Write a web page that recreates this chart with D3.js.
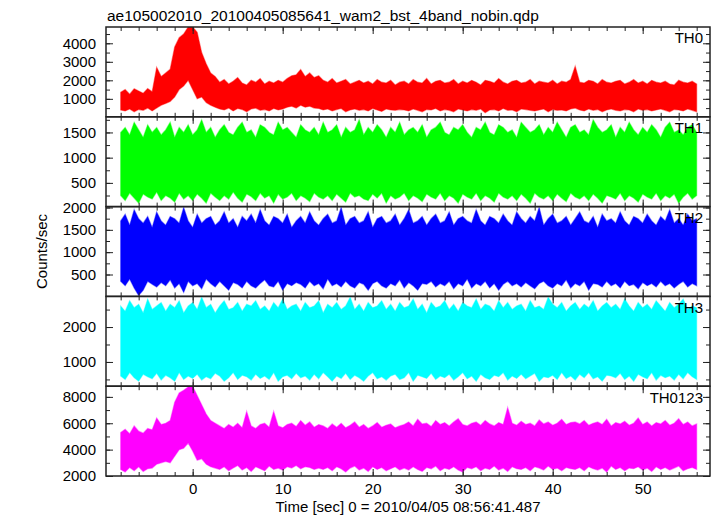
<!DOCTYPE html>
<html><head><meta charset="utf-8">
<script src="https://cdn.jsdelivr.net/npm/d3@7/dist/d3.min.js"></script>
<style>body{margin:0;background:#fff}svg text{font-family:"Liberation Sans",Arial,Helvetica,sans-serif}</style>
</head><body>
<svg id="c" width="717" height="516"></svg>
<script>
// ---- data: per-0.5 s bin upper (hi) and lower (lo) envelope of the light curves ----
const tStart = -8, tStep = 0.5;
const bands = ["TH0", "TH1", "TH2", "TH3", "TH0123"];
const th0Hi = [1350,1500,1250,1550,1420,1300,1560,1380, 2700,2200,2400,2600, 3800,4300,4500,4880, 4880,4600,3500,2900,2400,2200,
 1900,2050,1800,1950,2150,1850,1750,2000,1900,2100,1800,1950,1850,2000,1900,
 2100,2250,2300,2580,2200,2400,2150,2250,
 2000,1900,2100,1850,1950,2050,1800,1900,2000,1850,1950,1800,2050,1900,1850,2000,1750,1900,
 1950,1800,2050,1900,1850,2100,1800,1950,2000,1850,1900,2050,1800,1950,1850,2000,1900,1750,2000,1950,1850,2100,1900,1800,1950,2000,1850,1900,2050,1800,1950,1900,1850,2000,1800,1950,1900,2050,
 2760,
 1900,1850,2000,1950,1800,2050,1900,1850,1950,2000,1800,1900,2050,1850,1950,1800,2000,1900,1850,1950,1800,1750,2000,1900,1850,1950,1800];
const th0Lo = [400,350,450,300,420,380,500,350, 500,650,750,850, 1100,1500,1700,2000, 1500,1000,1100,800,650,550,
 450,400,500,350,480,420,300,450,500,380,420,350,480,400,450,
 550,600,500,650,550,600,500,480,
 400,450,350,420,480,300,400,450,380,420,350,480,400,320,450,400,380,420,
 400,350,450,380,300,420,400,480,350,420,380,300,450,400,350,420,380,450,250,400,420,350,480,380,400,300,450,420,380,350,400,450,300,420,380,400,350,450,
 500,
 400,350,450,380,420,300,400,450,380,350,420,400,300,450,380,420,350,400,450,380,300,420,400,350,450,380,300];
const th1Hi = [1500,1600,1450,1700,1550,1400,1650,1500,1600,1450,
 1550,1700,1400,1600,1500,1650,1450,1550,1750,1500,
 1600,1400,1550,1650,1500,1450,1600,1700,1500,1550,
 1400,1650,1600,1500,1450,1700,1550,1600,1500,1400,
 1650,1550,1500,1600,1450,1700,1500,1550,1650,1400,
 1600,1500,1550,1750,1450,1600,1500,1650,1550,1400,
 1600,1500,1700,1450,1550,1600,1500,1650,1400,1550,
 1600,1700,1500,1450,1600,1550,1650,1500,1400,1600,
 1550,1700,1500,1450,1650,1600,1500,1550,1400,1700,
 1600,1500,1550,1650,1450,1600,1500,1700,1550,1400,
 1600,1650,1500,1550,1450,1750,1600,1500,1550,1650,
 1400,1600,1500,1700,1550,1450,1600,1500,1650,1550,
 1400,1600,1700,1500,1550,1450,1600,1650,1500];
const th1Lo = [250,150,300,200,100,280,220,180,320,150,
 250,200,120,300,180,250,150,280,200,100,
 300,220,150,250,180,320,200,120,280,230,
 150,300,200,250,100,280,180,220,300,150,
 250,200,130,300,220,180,250,150,280,200,
 120,300,220,250,180,150,280,200,300,100,
 250,180,220,300,150,250,200,130,280,220,
 180,300,150,250,200,100,280,220,180,300,
 150,250,200,120,300,220,180,250,150,280,
 200,100,300,220,180,250,150,280,200,130,
 300,220,180,250,150,280,200,100,250,220,
 180,300,150,250,200,120,280,220,180,300,
 150,250,200,280,100,220,300,180,250];
const th2Hi = [1700,1850,1600,1950,1750,1650,1800,1550,1900,1700,
 1600,1800,1750,1650,2000,1700,1550,1850,1650,1750,
 1800,1600,1700,1900,1650,1750,1550,1800,1700,1850,
 1650,1950,1700,1600,1800,1750,1650,1850,1550,1700,
 1800,1650,1900,1700,1600,1750,1850,1650,1700,2000,
 1600,1750,1800,1650,1700,1900,1550,1750,1800,1650,
 1700,1850,1600,1750,1950,1650,1700,1800,1600,1750,
 1850,1650,1700,1900,1600,1750,1800,1700,1650,1950,
 1700,1600,1800,1750,1650,1850,1700,1600,1900,1750,
 1650,1800,1700,2000,1600,1750,1850,1650,1700,1800,
 1600,1750,1900,1700,1650,1800,1550,1850,1700,1750,
 1650,1900,1700,1600,1800,1750,1650,1850,1700,1600,
 1800,1700,1950,1650,1750,1600,1850,1700,1750];
const th2Lo = [350,250,400,200,30,150,350,280,220,320,
 250,380,200,300,100,350,250,300,180,400,
 300,220,350,250,150,320,280,200,350,250,
 200,300,380,250,220,350,150,300,250,320,
 280,200,350,250,300,180,400,250,300,220,
 350,250,200,320,280,150,300,350,250,200,
 300,250,380,200,320,250,150,300,280,350,
 220,300,250,350,180,300,250,400,200,300,
 250,350,200,300,150,280,350,250,300,220,
 320,250,180,300,350,250,200,300,250,380,
 200,300,250,350,150,300,280,220,350,250,
 300,200,350,250,280,180,320,250,300,220,
 350,250,300,200,280,350,220,300,250];
const th3Hi = [2600,2450,2750,2550,2650,2400,2800,2500,2600,2700,
 2450,2650,2550,2750,2400,2600,2700,2500,2850,2550,
 2650,2400,2600,2750,2500,2550,2700,2450,2650,2600,
 2750,2500,2600,2450,2700,2550,2800,2500,2600,2650,
 2450,2700,2550,2600,2750,2400,2650,2550,2700,2500,
 2600,2850,2500,2650,2450,2700,2550,2600,2750,2500,
 2650,2450,2700,2550,2600,2800,2500,2650,2400,2700,
 2550,2600,2750,2500,2650,2450,2700,2600,2550,2800,
 2500,2650,2600,2450,2750,2550,2700,2500,2600,2650,
 2450,2750,2550,2600,2500,2850,2650,2550,2700,2450,
 2600,2700,2500,2650,2550,2750,2450,2600,2700,2550,
 2650,2500,2800,2600,2450,2700,2550,2650,2500,2750,
 2600,2450,2700,2550,2650,2800,2500,2600,2550];
const th3Lo = [600,500,700,550,450,650,580,520,680,480,
 620,550,450,700,500,600,530,650,480,580,
 520,680,600,450,550,700,500,620,580,480,
 650,530,600,500,700,450,580,620,520,680,
 550,600,480,650,520,700,580,450,600,530,
 680,500,620,550,450,600,700,520,580,480,
 600,650,500,550,700,450,620,580,530,680,
 500,600,550,650,480,580,700,520,600,450,
 650,550,500,620,580,700,480,600,530,650,
 520,600,680,450,580,550,620,500,700,530,
 600,480,650,550,700,520,580,450,620,600,
 550,680,500,600,450,650,580,520,700,480,
 620,550,600,480,650,520,700,580,500];
const th0123Hi = [5300,5550,5200,5800,5400,5250,5600,5500, 6400,5900,6000,6200, 7600,8300,8500,8750, 8800,8100,7400,6700,6200,6000,
 5800,5600,5900,5700,6000,5650,6900,5800,5600,5900,6000,5700,6900,5800,5650,
 5900,6000,5750,6200,5850,6100,5700,5900,
 5800,5600,5950,5700,6000,5650,5850,6100,5700,5900,5600,5800,6050,5700,5850,5950,5650,5800,
 5900,6100,5800,6300,5950,6000,5750,6200,5900,6050,5800,6100,6350,5900,5800,6000,6100,5850,6200,5950,5800,6050,5900,7200,6000,5850,6150,5900,6000,5800,6250,5950,6100,5850,6000,6300,5900,6050,
 6100,
 5950,6200,5850,6000,6100,5900,6300,5800,6050,5950,6150,5850,6000,6400,5900,6100,5800,6050,5950,6200,5850,6000,6350,5900,6100,5800,5950];
const th0123Lo = [2500,2300,2650,2400,2700,2350,2550,2600, 2900,3000,3100,3000, 3500,4000,4100,4500, 3900,3200,3300,2900,2700,2600,
 2500,2700,2400,2600,2800,2450,2650,2350,2700,2550,2400,2750,2500,2600,2450,
 2700,2600,2800,2550,2700,2650,2500,2600,
 2500,2650,2400,2700,2550,2300,2600,2750,2450,2600,2350,2700,2500,2650,2400,2550,2700,2450,
 2600,2450,2700,2500,2350,2650,2550,2750,2400,2600,2500,2700,2450,2300,2650,2550,2700,2400,2600,2500,2750,2450,2600,2350,2700,2550,2500,2650,2400,2700,2600,2450,2750,2500,2600,2400,2650,2550,
 2500,
 2650,2400,2700,2550,2450,2600,2300,2750,2500,2650,2400,2600,2550,2700,2450,2600,2350,2700,2500,2650,2450,2600,2750,2400,2550,2650,2500];
const hiSeries = [th0Hi, th1Hi, th2Hi, th3Hi, th0123Hi];
const loSeries = [th0Lo, th1Lo, th2Lo, th3Lo, th0123Lo];
const xTickLabels = [0, 10, 20, 30, 40, 50];
const yTickLabels = [[1000,2000,3000,4000],[500,1000,1500],[500,1000,1500,2000],[1000,2000],[2000,4000,6000,8000]];

// ---- layout / style ----
const colors = ["#ff0000","#00ff00","#0000ff","#00ffff","#ff00ff"];
const yDomains = [[30,4880],[30,1810],[10,2020],[306,2877],[2000,8810]];
const yMinorStep = [500,250,250,500,1000];
const xDomain = [-9.63, 57.48];
const L = 106, R = 710, T = 27, B = 476;
const ph = (B - T) / 5;

const svg = d3.select("#c");
const x = d3.scaleLinear().domain(xDomain).range([L, R]);
const xMinor = d3.range(-8, 57, 2);

svg.append("text").attr("x", 107).attr("y", 21).attr("font-size", 15.5).attr("fill", "#000")
  .text("ae105002010_20100405085641_wam2_bst_4band_nobin.qdp");

bands.forEach((name, p) => {
  const top = T + p * ph, bot = top + ph;
  const y = d3.scaleLinear().domain(yDomains[p]).range([bot, top]);
  const hi = hiSeries[p], lo = loSeries[p];
  const pts = hi.map((h, i) => ({t: tStart + i * tStep, hi: h, lo: lo[i]}));
  const g = svg.append("g");
  const cid = "clip" + p;
  svg.append("clipPath").attr("id", cid).append("rect")
    .attr("x", L).attr("y", top).attr("width", R - L).attr("height", ph);
  const dg = g.append("g").attr("clip-path", `url(#${cid})`);
  dg.append("path").datum(pts)
    .attr("d", d3.area().x(d => x(d.t)).y0(d => y(d.lo)).y1(d => y(d.hi)))
    .attr("fill", colors[p]).attr("stroke", colors[p]).attr("stroke-opacity", 0.45)
    .attr("stroke-width", 1.2).attr("stroke-linejoin", "miter");

  // axes (ticks inward on all four sides)
  const ax = (axis, tx, ty) => {
    const a = g.append("g").attr("transform", `translate(${tx},${ty})`).call(axis);
    a.select(".domain").remove();
    a.selectAll("line").attr("stroke", "#222");
    a.selectAll("text").attr("font-size", 15).attr("fill", "#000").attr("font-family", "Liberation Sans, Arial, sans-serif");
    return a;
  };
  const yMin = d3.range(Math.ceil(yDomains[p][0] / yMinorStep[p]) * yMinorStep[p], yDomains[p][1], yMinorStep[p]);
  ax(d3.axisLeft(y).tickValues(yTickLabels[p]).tickSize(-7).tickPadding(10).tickFormat(d3.format("d")), L, 0);
  ax(d3.axisLeft(y).tickValues(yMin).tickSize(-4).tickFormat(""), L, 0);
  ax(d3.axisRight(y).tickValues(yTickLabels[p]).tickSize(-7).tickFormat(""), R, 0);
  ax(d3.axisRight(y).tickValues(yMin).tickSize(-4).tickFormat(""), R, 0);
  ax(d3.axisTop(x).tickValues(xTickLabels).tickSize(-7).tickFormat(""), 0, top);
  ax(d3.axisTop(x).tickValues(xMinor).tickSize(-4).tickFormat(""), 0, top);
  ax(d3.axisBottom(x).tickValues(xTickLabels).tickSize(-7).tickPadding(7)
     .tickFormat(p === 4 ? d3.format("d") : ""), 0, bot);
  ax(d3.axisBottom(x).tickValues(xMinor).tickSize(-4).tickFormat(""), 0, bot);

  g.append("rect").attr("x", L).attr("y", top).attr("width", R - L).attr("height", ph)
    .attr("fill", "none").attr("stroke", "#222").attr("stroke-width", 1.5);
  g.append("text").attr("x", 703).attr("y", top + 16.3).attr("text-anchor", "end")
    .attr("font-size", 15).attr("fill", "#000").text(name);
});

svg.append("text").attr("x", (L + R) / 2).attr("y", 512).attr("text-anchor", "middle")
  .attr("font-size", 15).attr("fill", "#000").text("Time [sec] 0 = 2010/04/05 08:56:41.487");
svg.append("text").attr("transform", `translate(47,${(T + B) / 2}) rotate(-90)`).attr("text-anchor", "middle")
  .attr("font-size", 15).attr("fill", "#000").text("Counts/sec");
</script>
</body></html>
